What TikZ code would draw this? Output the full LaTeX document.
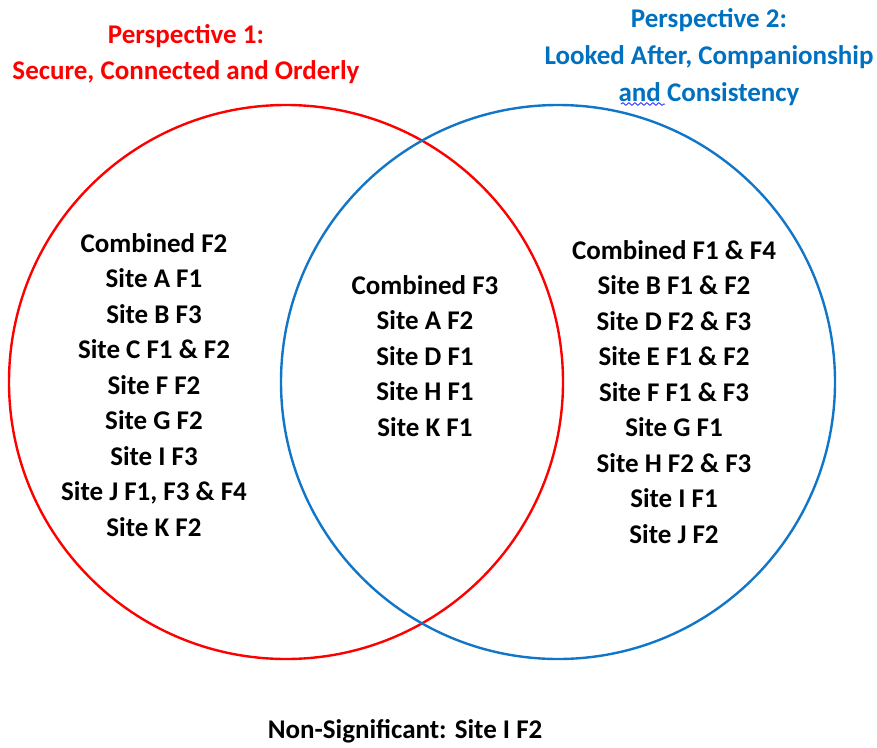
\documentclass[tikz,border=0pt]{standalone}
\usepackage{fontspec}
\setmainfont{Carlito}
\usetikzlibrary{decorations.pathmorphing}
\definecolor{pred}{RGB}{255,0,0}
\definecolor{pblue}{RGB}{0,112,192}
\definecolor{cblue}{RGB}{18,118,200}
\definecolor{squig}{RGB}{70,70,240}
\begin{document}
\begin{tikzpicture}[x=1pt, y=-1pt, ring/.style = {line width=2.4pt}, lst/.style= {align=center, inner sep=0pt, font=\fontsize{27}{35.5}\selectfont\bfseries}]
		\useasboundingbox (0,0) rectangle (877,747);
		\coordinate (c1) at (286,382);
		\coordinate (c2) at (558,382);
		
		\draw[ring, pred] (c1) circle (277);
		\draw[ring, cblue] (c2) circle (277);
		
		\node[lst, pred] (title1) at (186,54) {Perspective 1:\\Secure, Connected and Orderly};
		\node[lst, pblue, font=\fontsize{27}{37}\selectfont\bfseries] (title2) at (709,57) {Perspective 2:\\Looked After, Companionship\\and Consistency};
		\draw[squig, line width=1pt, decorate, decoration={snake, amplitude=1.3pt, segment length=6pt}] (621,104) -- (665,104);
		
		\node[lst] (left) at (154,385) {Combined F2\\Site A F1\\Site B F3\\Site C F1 \& F2\\Site F F2\\Site G F2\\Site I F3\\Site J F1, F3 \& F4\\Site K F2};
		\node[lst] (mid) at (425,356) {Combined F3\\Site A F2\\Site D F1\\Site H F1\\Site K F1};
		\node[lst] (right) at (674,392) {Combined F1 \& F4\\Site B F1 \& F2\\Site D F2 \& F3\\Site E F1 \& F2\\Site F F1 \& F3\\Site G F1\\Site H F2 \& F3\\Site I F1\\Site J F2};
		
		\node[lst] (nonsig) at (405,731) {Non-Significant: Site I F2};
	\end{tikzpicture}
\end{document}
